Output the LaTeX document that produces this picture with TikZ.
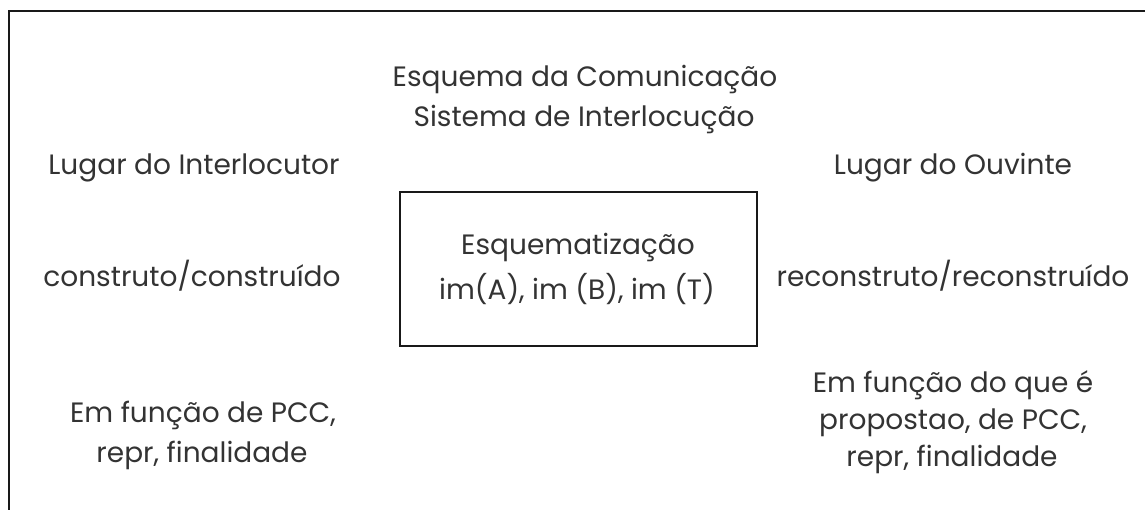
\documentclass[tikz,border=0pt]{standalone}
\usepackage{fontspec}
\setmainfont{Poppins}
\begin{document}
\begin{tikzpicture}[x=1pt,y=-1pt,
  lbl/.style={text=black!80, font=\fontsize{28}{37}\selectfont, anchor=base, inner sep=0pt},
  frame/.style={line width=2.6pt, draw=black!90},
  bigbox/.style={draw=black!90, line width=2.2pt, minimum width=357pt, minimum height=154pt, inner sep=0pt}]
\useasboundingbox (0,0) rectangle (1145,510);
\coordinate (ftl) at (9,11);
\coordinate (ftr) at (1150,11);
\coordinate (fbl) at (9,515);
\draw[frame] (fbl) -- (ftl) -- (ftr);
\node[lbl] (title1) at (585,87) {Esquema da Comunicação};
\node[lbl] (title2) at (584,127) {Sistema de Interlocução};
\node[lbl] (li) at (194,175) {Lugar do Interlocutor};
\node[lbl] (lo) at (953,175) {Lugar do Ouvinte};
\node[bigbox] (box) at (578.5,269) {};
\node[lbl] (esq1) at (578,255) {Esquematização};
\node[lbl] (esq2) at (577,300) {im(A), im (B), im (T)};
\node[lbl] (con) at (192,287) {construto/construído};
\node[lbl] (rec) at (953,287) {reconstruto/reconstruído};
\node[lbl] (efl1) at (203,422) {Em função de PCC,};
\node[lbl] (efl2) at (202,462) {repr, finalidade};
\node[lbl] (efr1) at (953,392) {Em função do que é};
\node[lbl] (efr2) at (953,429) {propostao, de PCC,};
\node[lbl] (efr3) at (952,466) {repr, finalidade};
\end{tikzpicture}
\end{document}
